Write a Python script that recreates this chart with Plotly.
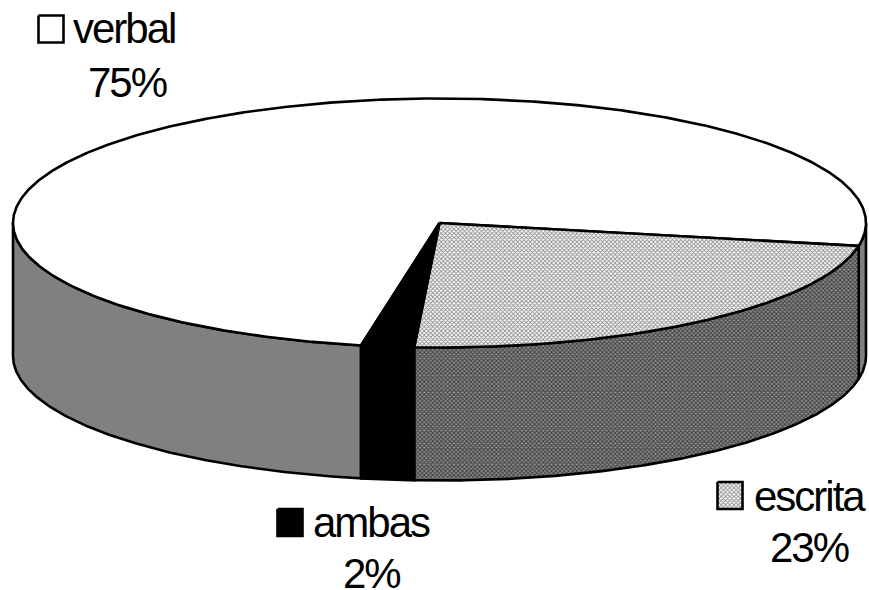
import numpy as np
import plotly.graph_objects as go

categories = ["verbal", "escrita", "ambas"]
values = [75, 23, 2]
percent_labels = ["75%", "23%", "2%"]

# Disc geometry in plot units (one unit per pixel)
CX, CY, RX, RY, DEPTH = 439.5, 223.0, 426.5, 124.5, 133.0
FIRST_ANGLE = 100.6  # where the first category starts, clockwise from 3 o'clock
LINE = dict(color="black", width=2.6)

TOP_STYLE = {
    "verbal": dict(fillcolor="white"),
    "escrita": dict(fillcolor="#d6d6d6",
                    fillpattern=dict(shape="x", size=3, solidity=0.5,
                                     bgcolor="white", fgcolor="#8c8c8c", fillmode="replace")),
    "ambas": dict(fillcolor="black"),
}
SIDE_STYLE = {
    "verbal": dict(fillcolor="#808080"),
    "escrita": dict(fillcolor="#666666",
                    fillpattern=dict(shape="x", size=3, solidity=0.5,
                                     bgcolor="#8c8c8c", fgcolor="#3c3c3c", fillmode="replace")),
    "ambas": dict(fillcolor="black"),
}


def arc(a0, a1, dy=0.0):
    t = np.radians(np.linspace(a0, a1, max(int(abs(a1 - a0) * 3), 2)))
    return CX + RX * np.cos(t), CY + dy + RY * np.sin(t)


def polygon(x, y, style, line=LINE):
    return go.Scatter(x=np.append(x, x[0]), y=np.append(y, y[0]), mode="lines", fill="toself",
                      line=line, hoverinfo="skip", showlegend=False, **style)


fig = go.Figure()

# Angular span of each category
spans = {}
angle = FIRST_ANGLE
for name, value in zip(categories, values):
    spans[name] = (angle, angle + value * 3.6)
    angle += value * 3.6

# Front wall: only the parts of each slice facing the viewer (0-180 degrees, mod 360)
for name in categories:
    a0, a1 = spans[name]
    for shift in (0, -360):
        lo, hi = max(a0 + shift, 0), min(a1 + shift, 180)
        if hi > lo:
            tx, ty = arc(lo, hi)
            bx, by = arc(hi, lo, DEPTH)
            fig.add_trace(polygon(np.r_[tx, bx], np.r_[ty, by], SIDE_STYLE[name]))

# Top face wedges
for name in categories:
    a0, a1 = spans[name]
    ex, ey = arc(a0, a1)
    fig.add_trace(polygon(np.r_[CX, ex], np.r_[CY, ey], TOP_STYLE[name]))

# Legend keys beside the labels
KEYS = {"verbal": (51, 29), "escrita": (730, 495.5), "ambas": (290, 522.5)}
for name in categories:
    kx, ky = KEYS[name]
    fig.add_trace(polygon(np.array([kx - 12.5, kx + 12.5, kx + 12.5, kx - 12.5]),
                          np.array([ky - 13.5, ky - 13.5, ky + 13.5, ky + 13.5]),
                          TOP_STYLE[name], line=dict(color="black", width=2.6)))

FONT = dict(family="Liberation Sans, Arial, sans-serif", size=42, color="black")
NAME_POS = {"verbal": (124, 28), "escrita": (809, 496), "ambas": (371, 522)}
PCT_POS = {"verbal": (127, 82), "escrita": (809, 547), "ambas": (371, 573)}
annotations = []
for name, pct in zip(categories, percent_labels):
    for text, (x, y) in ((name, NAME_POS[name]), (pct, PCT_POS[name])):
        annotations.append(dict(x=x, y=y, text=text, showarrow=False, font=FONT,
                                xanchor="center", yanchor="middle"))

fig.update_layout(
    width=869, height=590, margin=dict(l=0, r=0, t=0, b=0),
    paper_bgcolor="white", plot_bgcolor="white", showlegend=False,
    xaxis=dict(range=[0, 869], visible=False, fixedrange=True),
    yaxis=dict(range=[590, 0], visible=False, fixedrange=True),
    annotations=annotations,
)

# The labels are set tight, as in a condensed office-chart style
tighten = "var s=document.createElement('style');s.textContent='.annotation-text{letter-spacing:-2px}';document.head.appendChild(s);"
fig.write_html("out.html", post_script=tighten, config=dict(displayModeBar=False))
